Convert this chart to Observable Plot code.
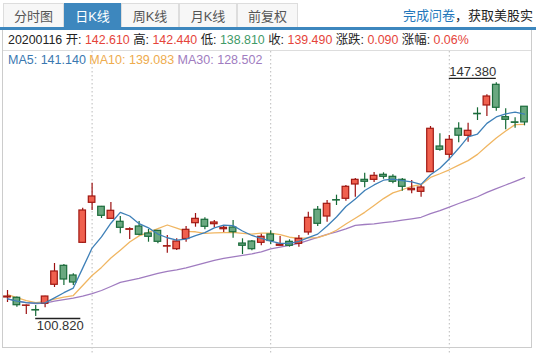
<!DOCTYPE html>
<html><head><meta charset="utf-8">
<script src="https://cdn.jsdelivr.net/npm/d3@7"></script>
<script src="https://cdn.jsdelivr.net/npm/@observablehq/plot@0.6"></script>
<style>
body{margin:0;background:#fff;}
#wrap{position:relative;width:536px;height:353px;overflow:hidden;background:#fff;font-family:"Liberation Sans","Noto Sans CJK SC",sans-serif;}
.tab{position:absolute;top:3px;height:24px;border:1px solid #ddd;border-bottom:none;background:#f7f7f7;color:#555;font-size:13px;line-height:26px;text-align:center;box-sizing:border-box;}
.tab.active{background:#3d87be;color:#fff;border-color:#3d87be;}
#bar{position:absolute;left:0;top:27px;width:536px;height:3px;background:#3d87be;}
#box{position:absolute;left:2px;top:30px;width:530px;height:318px;border:1px solid #ccc;border-top:none;box-sizing:border-box;}
#sep{position:absolute;left:3px;top:50px;width:528px;height:1px;background:#ddd;}
#info{position:absolute;left:8px;top:32px;font-size:12.4px;line-height:16px;white-space:nowrap;color:#222;}
#ma{position:absolute;left:8px;top:52px;font-size:12.5px;line-height:16px;white-space:nowrap;}
#notice{position:absolute;left:403px;top:8px;font-size:13px;line-height:16px;white-space:nowrap;color:#222;}
#chart{position:absolute;left:0;top:51px;}
.r{color:#e5443a}.g{color:#3f9a68}
</style>
</head><body>
<div id="wrap">
  <div id="chart"></div>
  <div id="box"></div>
  <div id="sep"></div>
  <div id="tabs"></div>
  <div id="bar"></div>
  <div id="notice"><span style="color:#2277bb">完成问卷</span>，获取美股实</div>
  <div id="info"></div>
  <div id="ma"></div>
</div>
<script>
// ---- data ----
const tabLabels = ["分时图", "日K线", "周K线", "月K线", "前复权"];
const lastDate = "20200116";
const opens  = [104.61,104.55,102.95,102.10,103.35,107.14,110.92,108.99,115.50,123.47,
                122.68,120.28,119.69,118.10,118.75,117.36,117.89,114.75,114.23,116.26,
                119.41,120.09,119.21,118.21,118.55,115.36,115.76,115.50,117.16,114.91,
                115.70,115.30,117.56,122.08,120.74,124.00,124.27,127.12,128.05,128.05,
                129.05,128.65,128.05,125.98,125.66,129.57,134.69,133.04,138.22,136.82,
                141.20,142.86,146.98,140.53,139.50,142.61];
const highs  = [106.00,104.70,103.10,103.01,104.85,111.38,111.18,109.33,122.40,127.38,
                122.75,123.53,120.74,118.49,119.75,118.15,117.95,116.96,116.30,118.75,
                121.34,120.48,119.95,118.95,119.95,116.30,115.96,117.22,117.89,116.76,
                116.10,116.96,121.60,122.74,123.93,124.99,126.92,128.31,129.37,129.51,
                129.45,129.05,128.31,127.92,126.92,138.67,137.22,136.88,139.41,139.33,
                142.40,144.99,147.38,142.20,140.41,142.44];
const lows   = [103.61,102.67,101.22,100.82,102.56,106.60,107.00,107.00,115.36,121.94,
                120.34,120.28,117.30,116.16,116.90,115.62,115.30,113.43,113.97,115.62,
                118.61,118.09,118.49,117.56,116.42,113.17,113.91,114.91,115.16,114.91,
                114.63,114.63,117.02,118.75,119.61,122.93,123.79,124.59,126.46,127.52,
                128.17,127.26,125.78,125.27,124.59,129.57,133.75,132.04,135.43,135.55,
                139.87,140.67,141.72,138.02,138.33,138.81];
const closes = [104.80,103.07,103.01,102.02,104.80,109.79,108.19,107.59,121.94,124.73,
                120.88,121.88,118.49,118.21,117.10,116.70,115.70,114.83,115.76,118.09,
                120.28,118.69,119.55,118.49,117.62,114.91,114.23,116.70,115.86,115.16,
                114.91,116.30,120.48,119.29,123.27,123.93,126.66,128.05,127.66,128.85,
                128.65,127.66,126.66,126.26,126.52,138.22,134.03,136.02,136.84,137.82,
                141.12,144.65,142.40,140.01,139.40,139.49];
const ma5  = [104.35,103.87,103.60,103.47,103.54,104.54,105.56,106.48,110.46,114.45,
              116.67,119.40,121.58,120.84,119.31,118.48,117.24,116.51,116.02,116.22,
              116.93,117.53,118.47,119.02,118.93,117.85,116.96,116.39,115.86,115.37,
              115.37,115.79,116.54,117.23,118.85,120.65,122.73,124.24,125.91,127.03,
              127.97,128.17,127.90,127.62,127.15,129.06,130.34,132.21,134.33,136.59,
              137.17,139.29,140.57,141.20,141.52,141.14];
const ma10 = [105.20,104.60,104.00,103.60,103.80,104.30,104.70,105.00,107.00,108.99,
              110.60,112.48,114.03,115.65,116.88,117.57,118.32,119.05,118.43,117.76,
              117.70,117.39,117.49,117.52,117.57,117.39,117.25,117.43,117.44,117.15,
              116.61,116.37,116.47,116.55,117.11,118.01,119.26,120.39,121.57,122.94,
              124.31,125.45,126.07,126.77,127.09,128.52,129.26,130.05,130.97,131.87,
              133.12,134.81,136.39,137.76,139.05,139.08];
const ma30 = [104.35,103.90,103.60,103.40,103.50,103.90,104.20,104.50,104.90,105.40,
              106.00,106.80,107.60,108.00,108.40,108.90,109.40,109.80,110.10,110.50,
              111.00,111.50,112.00,112.40,112.70,113.00,113.30,113.70,114.30,114.64,
              114.97,115.41,116.00,116.57,117.19,117.66,118.27,118.96,119.15,119.28,
              119.54,119.74,120.01,120.28,120.59,121.31,121.92,122.63,123.33,123.99,
              124.68,125.55,126.31,127.02,127.75,128.50];
const gridDays = [10, 29, 48];
const infoText = {open:"142.610", high:"142.440", low:"138.810", close:"139.490", chg:"0.090", pct:"0.06%"};
const maText = {ma5:"141.140", ma10:"139.083", ma30:"128.502"};
const hiLabel = "147.380", loLabel = "100.820";

// ---- header html ----
const tabLeft = [3, 64, 121, 179, 237], tabW = [61, 57, 58, 58, 61];
document.getElementById("tabs").innerHTML = tabLabels.map((t,i) =>
  `<div class="tab${i===1?" active":""}" style="left:${tabLeft[i]}px;width:${tabW[i]}px">${t}</div>`).join("");
document.getElementById("info").innerHTML =
  `${lastDate} 开: <span class="r">${infoText.open}</span> 高: <span class="r">${infoText.high}</span> 低: <span class="g">${infoText.low}</span> 收: <span class="r">${infoText.close}</span> 涨跌: <span class="r">${infoText.chg}</span> 涨幅: <span class="r">${infoText.pct}</span>`;
document.getElementById("ma").innerHTML =
  `<span style="color:#3a78b0">MA5: ${maText.ma5}</span> <span style="color:#eeac4e">MA10: ${maText.ma10}</span> <span style="color:#a07cc0">MA30: ${maText.ma30}</span>`;

// ---- chart ----
const candles = opens.map((o, k) => ({i: k + 1, open: o, high: highs[k], low: lows[k], close: closes[k]}));
const up = d => d.close >= d.open;
const hiK = d3.maxIndex(highs), loK = d3.minIndex(lows);
const hi = candles[hiK], lo = candles[loK];

const chart = Plot.plot({
  width: 536, height: 302, margin: 0,
  style: {background: "transparent", overflow: "visible"},
  x: {type: "linear", domain: [1, 56], range: [7, 524], axis: null},
  y: {domain: [100.82, 147.38], range: [265, 31.3], axis: null},
  marks: [
    Plot.ruleX(gridDays, {x: d => d, stroke: "#bbb", strokeDasharray: "1.5,2.5"}),
    Plot.line(candles, {x: "i", y: (d, k) => ma30[k], stroke: "#a07cc0", strokeWidth: 1.3}),
    Plot.line(candles, {x: "i", y: (d, k) => ma10[k], stroke: "#f0b662", strokeWidth: 1.3}),
    Plot.ruleX(candles, {x: "i", y1: "low", y2: "high", stroke: d => up(d) ? "#9c1010" : "#156a36", strokeWidth: 1.2}),
    Plot.rect(candles, {x1: d => d.i - 0.35, x2: d => d.i + 0.35, y1: "open", y2: "close",
      fill: d => up(d) ? "#f0604e" : "#6aa880", stroke: d => up(d) ? "#a01812" : "#1b6b3b", strokeWidth: 1.2}),
    Plot.line(candles, {x: "i", y: (d, k) => ma5[k], stroke: "#3f80b8", strokeWidth: 1.3}),
    Plot.ruleY([hi], {x1: d => d.i - 5.0, x2: d => d.i, y: "high", dy: -4.5, stroke: "#222", strokeWidth: 1.3}),
    Plot.text([hi], {x: "i", y: "high", text: () => hiLabel, textAnchor: "end", dy: -11, fontSize: 13, fill: "#333", fontFamily: "Liberation Sans"}),
    Plot.ruleY([lo], {x1: d => d.i, x2: d => d.i + 4.8, y: "low", dy: 2, stroke: "#222", strokeWidth: 1.3}),
    Plot.text([lo], {x: "i", y: "low", text: () => loLabel, textAnchor: "start", dx: 1, dy: 9, fontSize: 13, fill: "#333", fontFamily: "Liberation Sans"})
  ]
});
document.getElementById("chart").appendChild(chart);
</script>
</body></html>
